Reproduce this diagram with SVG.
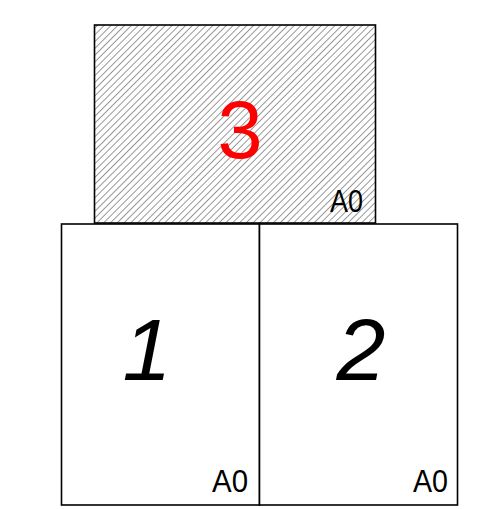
<svg xmlns="http://www.w3.org/2000/svg" width="494" height="509" viewBox="0 0 494 509">
<defs>
<pattern id="hatch" patternUnits="userSpaceOnUse" width="4.8" height="4.8" patternTransform="rotate(45)">
<line x1="0" y1="0" x2="0" y2="4.8" stroke="#555" stroke-width="1.2"/>
</pattern>
<style>
.sheet{stroke:#000;stroke-width:1.6}
.lbl{font-family:"Liberation Sans",Arial,sans-serif;font-size:32px;fill:#000}
.num{font-family:"Liberation Sans",Arial,sans-serif;font-size:88px;font-style:italic;fill:#000}
</style>
</defs>
<rect width="494" height="509" fill="#fff"/>
<g id="sheet3">
<rect class="sheet" x="94.5" y="25" width="281" height="198" fill="url(#hatch)"/>
<text x="240" y="158" text-anchor="middle" style="font-family:'Liberation Sans',Arial,sans-serif;font-size:81px;fill:#ff0000">3</text>
<text class="lbl" x="330" y="212" textLength="33" lengthAdjust="spacingAndGlyphs">A0</text>
</g>
<g id="sheet1">
<rect class="sheet" x="61.5" y="224" width="198" height="281" fill="#fff"/>
<text class="num" x="147" y="380" text-anchor="middle">1</text>
<text class="lbl" x="212" y="492" textLength="36" lengthAdjust="spacingAndGlyphs">A0</text>
</g>
<g id="sheet2">
<rect class="sheet" x="259.5" y="224" width="198" height="281" fill="#fff"/>
<text class="num" x="361" y="380" text-anchor="middle">2</text>
<text class="lbl" x="413" y="492" textLength="35" lengthAdjust="spacingAndGlyphs">A0</text>
</g>
<g id="connectors"/>
</svg>
